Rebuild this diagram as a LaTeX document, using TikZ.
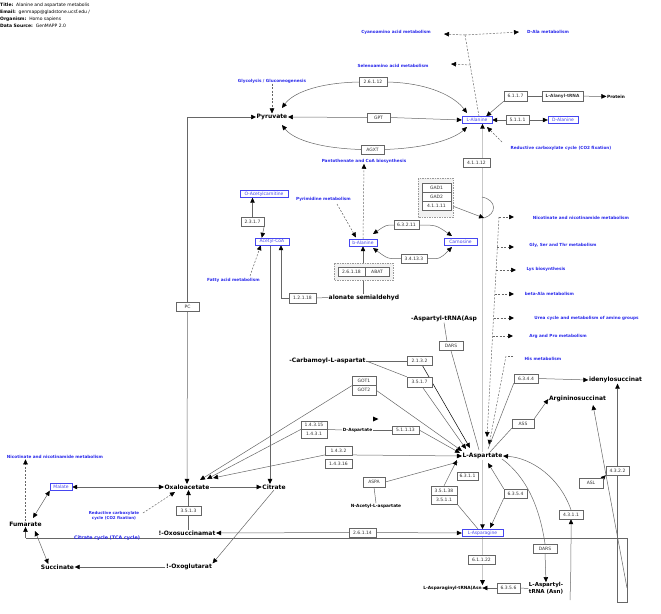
\documentclass[tikz,border=0pt]{standalone}
\usepackage{fontspec}
\setmainfont{DejaVu Sans}
\usetikzlibrary{arrows.meta}
\newcommand\fsz[1]{\fontsize{#1}{#1}\selectfont}
\definecolor{pblue}{RGB}{40,40,235}
\definecolor{mblue}{RGB}{70,70,240}
\pgfdeclarelayer{bg}
\pgfsetlayers{bg,main}
\tikzset{
 >={Triangle[length=5pt,width=4.5pt,color=black]},
 gene/.style={draw=black!60, fill=white, font=\fsz{4.5}, text=black!80, inner sep=0pt, minimum height=9pt},
 met/.style={font=\fsz{6}\bfseries, inner sep=0.5pt},
 smet/.style={font=\fsz{4.3}\bfseries, inner sep=0.5pt},
 bmet/.style={draw=mblue, fill=white, text=mblue, font=\fsz{4.5}, minimum height=7pt, inner sep=0pt},
 plab/.style={text=pblue, font=\fsz{4.2}\bfseries, inner sep=0.5pt},
 conn/.style={draw=black!60, line width=0.5pt},
 arr/.style={conn, ->},
 biarr/.style={conn, <->},
 dln/.style={conn, dash pattern=on 2pt off 1.5pt},
 darr/.style={dln, ->},
 gline/.style={draw=black!22, line width=1.4pt},
 garr/.style={gline, ->},
 grp/.style={draw=black!40, dash pattern=on 1.5pt off 1pt, fill=black!5},
}
\begin{document}
\begin{tikzpicture}[x=1pt,y=-1pt]
\useasboundingbox (0,0) rectangle (661,613);
% header
\node[anchor=west, font=\fsz{4.5}, inner sep=0] (h1) at (0,5) {\textbf{Title:}\ \ Alanine and aspartate metabolis};
\node[anchor=west, font=\fsz{4.5}, inner sep=0] (h2) at (0,12) {\textbf{Email:}\ \ genmapp@gladstone.ucsf.edu /};
\node[anchor=west, font=\fsz{4.5}, inner sep=0] (h3) at (0,19) {\textbf{Organism:}\ \ Homo sapiens};
\node[anchor=west, font=\fsz{4.5}, inner sep=0] (h4) at (0,25.5) {\textbf{Data Source:}\ \ GenMAPP 2.0};
% pathway labels
\node[plab] (cyano) at (396,32) {Cyanoamino acid metabolism};
\node[plab] (dala) at (548,32) {D-Ala metabolism};
\node[plab] (seleno) at (393,66) {Selenoamino acid metabolism};
\node[plab] (glyco) at (272,81) {Glycolysis / Gluconeogenesis};
\node[plab] (panto) at (364,161) {Pantothenate and CoA biosynthesis};
\node[plab] (pyrim) at (323.5,199) {Pyrimidine metabolism};
\node[plab] (fatty) at (233.5,280.5) {Fatty acid metabolism};
\node[plab] (redA) at (561,148.5) {Reductive carboxylate cycle (CO2 fixation)};
\node[plab] (nicR) at (581,218) {Nicotinate and nicotinamide metabolism};
\node[plab] (gly) at (563,245) {Gly, Ser and Thr metabolism};
\node[plab] (lys) at (546,269) {Lys biosynthesis};
\node[plab] (beta) at (549.5,294) {beta-Ala metabolism};
\node[plab] (urea) at (586.5,318) {Urea cycle and metabolism of amino groups};
\node[plab] (arg) at (558,336) {Arg and Pro metabolism};
\node[plab] (his) at (543,359) {His metabolism};
\node[plab] (nicL) at (55,457) {Nicotinate and nicotinamide metabolism};
\node[plab, align=center, font=\fontsize{4}{5}\selectfont\bfseries] (redB) at (114,515.5) {Reductive carboxylate\\cycle (CO2 fixation)};
\node[plab, font=\fsz{4.8}\bfseries] (tca) at (107,538) {Citrate cycle (TCA cycle)};
% groups
\draw[grp] (334,263) rectangle (393,280);
\draw[grp] (418,178) rectangle (453,217);
% top part
\node[met] (pyr) at (272,117) {Pyruvate};
\node[bmet, minimum width=30pt] (ala) at (477,120) {L-Alanine};
\node[gene, minimum width=23pt] (gpt) at (378.5,117.5) {GPT};
\node[gene, minimum width=28pt] (g2612) at (373,82) {2.6.1.12};
\node[gene, minimum width=23pt] (agxt) at (372.5,149.5) {AGXT};
\node[gene, minimum width=23pt] (pc) at (187.5,306.5) {PC};
\node[gene, minimum width=23pt, minimum height=10pt] (g6117) at (515.5,96) {6.1.1.7};
\node[gene, minimum width=41pt, minimum height=10pt, font=\fsz{4.3}\bfseries] (alatrna) at (562.5,96) {L-Alanyl-tRNA};
\node[smet] (protein) at (616,96.5) {Protein};
\node[gene, minimum width=23pt] (g5111) at (517.5,120) {5.1.1.1};
\node[bmet, minimum width=30pt] (dalanine) at (563,120) {D-Alanine};
\node[gene, minimum width=27pt] (g41112) at (476.5,162.5) {4.1.1.12};
% middle
\node[bmet, minimum width=48pt] (oac) at (264,194) {O-Acetylcarnitine};
\node[gene, minimum width=23pt] (g2317) at (252.5,221.5) {2.3.1.7};
\node[bmet, minimum width=34pt] (acoa) at (272,241.5) {Acetyl-CoA};
\node[gene, minimum width=27pt, minimum height=10pt] (g12118) at (302.5,298) {1.2.1.18};
\node[met, anchor=west] (msa) at (328,297.5) {alonate semialdehyd};
\node[bmet, minimum width=28pt] (bala) at (363,242.5) {b-Alanine};
\node[bmet, minimum width=33pt] (carn) at (460.5,241.5) {Carnosine};
\node[gene, minimum width=25pt] (g63211) at (406.5,225) {6.3.2.11};
\node[gene, minimum width=26pt] (g34133) at (414,258.5) {3.4.13.3};
\node[gene, minimum width=27pt] (g26118) at (351.5,271.5) {2.6.1.18};
\node[gene, minimum width=24pt] (abat) at (377,271.5) {ABAT};
\node[gene, minimum width=29pt] (gad1) at (436.5,187.5) {GAD1};
\node[gene, minimum width=29pt] (gad2) at (436.5,196.5) {GAD2};
\node[gene, minimum width=29pt] (g41111) at (436.5,205.5) {4.1.1.11};
% lower middle
\node[met] (asptrna) at (444,319) {-Aspartyl-tRNA(Asp};
\node[gene, minimum width=24pt] (dars1) at (451,346) {DARS};
\node[met] (carb) at (327.5,361) {-Carbamoyl-L-aspartat};
\node[gene, minimum width=25pt] (g2132) at (419.5,361) {2.1.3.2};
\node[gene, minimum width=25pt, minimum height=10pt] (g3517) at (419.5,382) {3.5.1.7};
\node[gene, minimum width=24pt, minimum height=9.5pt] (got1) at (364,380.75) {GOT1};
\node[gene, minimum width=24pt, minimum height=9.5pt] (got2) at (364,390.25) {GOT2};
\node[gene, minimum width=26pt, minimum height=8.5pt] (g14315) at (314,425) {1.4.3.15};
\node[gene, minimum width=26pt, minimum height=8.5pt] (g1431) at (314,433.5) {1.4.3.1};
\node[smet] (dasp) at (357.5,430) {D-Aspartate};
\node[gene, minimum width=27pt, minimum height=8.5pt] (g51113) at (405.5,430) {5.1.1.13};
\node[gene, minimum width=27pt, minimum height=8.5pt] (g1432) at (338.5,450.5) {1.4.3.2};
\node[gene, minimum width=27pt] (g14316) at (338.5,463.5) {1.4.3.16};
\node[met] (lasp) at (482.5,456) {L-Aspartate};
\node[gene, minimum width=22pt, minimum height=10pt] (aspa) at (374,482) {ASPA};
\node[smet] (naa) at (376,506) {N-Acetyl-L-aspartate};
\node[gene, minimum width=21pt, minimum height=8pt] (g6311) at (467.5,476) {6.3.1.1};
\node[gene, minimum width=26pt] (g35138) at (444,490.5) {3.5.1.38};
\node[gene, minimum width=26pt] (g3511) at (444,499.5) {3.5.1.1};
\node[gene, minimum width=23pt] (g6354) at (515.5,493.5) {6.3.5.4};
\node[bmet, minimum width=41pt] (lasn) at (482.5,533) {L-Asparagine};
\node[gene, minimum width=27pt] (g26114) at (362.5,532.5) {2.6.1.14};
\node[gene, minimum width=27pt] (g61122) at (481.5,559.5) {6.1.1.22};
\node[gene, minimum width=23pt, minimum height=10pt] (g6356) at (508.5,588) {6.3.5.6};
\node[smet] (asntrna) at (452.5,588) {L-Asparaginyl-tRNA(Asn};
\node[met, align=center, font=\fontsize{5.5}{6.5}\selectfont\bfseries] (asptrnaasn) at (546,588.5) {L-Aspartyl-\\tRNA (Asn)};
\node[gene, minimum width=24pt] (dars2) at (545,548.5) {DARS};
\node[gene, minimum width=24pt] (g4311) at (571,514.5) {4.3.1.1};
\node[gene, minimum width=24pt] (g6344) at (526,378.5) {6.3.4.4};
\node[met] (adsucc) at (615.5,380) {idenylosuccinat};
\node[gene, minimum width=22pt] (ass) at (523,423.5) {ASS};
\node[met] (argsucc) at (577.5,399) {Argininosuccinat};
\node[gene, minimum width=23pt] (g4322) at (617.5,470.5) {4.3.2.2};
\node[gene, minimum width=24pt, minimum height=10pt] (asl) at (591,483) {ASL};
% TCA part
\node[met] (oaa) at (187,487) {Oxaloacetate};
\node[bmet, minimum width=22pt] (malate) at (61,487) {Malate};
\node[met] (citrate) at (274,487) {Citrate};
\node[gene, minimum width=25pt] (g3513) at (188.5,510.5) {3.5.1.3};
\node[met] (oxosucc) at (187,533) {!-Oxosuccinamat};
\node[met] (fum) at (25.5,524) {Fumarate};
\node[met] (succ) at (57.5,567) {Succinate};
\node[met] (oxoglu) at (189,567) {!-Oxoglutarat};
% lone arrowhead
\fill[black] (373,416.5) -- (378.5,419) -- (373,421.5) -- cycle;
% coordinates
\coordinate (j1) at (465,35);
\coordinate (j2) at (470.5,65);
\coordinate (cyanoT) at (444,34);
\coordinate (dalaT) at (519,32);
\coordinate (selenoT) at (451,64);
\coordinate (pyrNE) at (282,108);
\coordinate (pyrSE) at (282,125);
\coordinate (alaNW) at (467,113);
\coordinate (alaSW) at (467,127);
\coordinate (pcTop) at (187.5,117);
\coordinate (redAs) at (502,142);
\coordinate (alaSE) at (487,127);
\coordinate (pyrimS) at (337,204);
\coordinate (balaNW) at (356,237.5);
\coordinate (fattyS) at (250,276);
\coordinate (k1) at (281,298);
\coordinate (balaNE) at (373,234);
\coordinate (carnNW) at (452,236);
\coordinate (balaSE) at (373,248);
\coordinate (carnSW) at (452,247);
\coordinate (gadA) at (482,197);
\coordinate (gadB) at (484,218);
\coordinate (b1) at (499,217);
\coordinate (b2) at (497.4,247);
\coordinate (b3) at (496.1,270);
\coordinate (b4) at (494.8,294);
\coordinate (b5) at (493.5,318);
\coordinate (b6) at (492.5,336);
\coordinate (dbot) at (487,437);
\coordinate (t1) at (514,217);
\coordinate (t2) at (514,247);
\coordinate (t3) at (516,270);
\coordinate (t4) at (514,294);
\coordinate (t5) at (514,318);
\coordinate (t6) at (513,336);
\coordinate (hisA) at (513,356);
\coordinate (hisB) at (506,356);
\coordinate (hisT) at (489,445);
\coordinate (laspT1) at (479,450);
\coordinate (laspA) at (470,448);
\coordinate (laspB) at (466,449);
\coordinate (laspC) at (462,451);
\coordinate (laspD) at (460,453);
\coordinate (laspF) at (458,462);
\coordinate (laspG) at (457,460);
\coordinate (laspH) at (488,463);
\coordinate (laspNE) at (490,452);
\coordinate (laspN2) at (488,449);
\coordinate (laspR1) at (502,459);
\coordinate (lasnN1) at (478,529);
\coordinate (lasnNE) at (490,528);
\coordinate (oaaT1) at (200,480);
\coordinate (oaaT2) at (207,479);
\coordinate (oaaT3) at (213,478);
\coordinate (oaaSW) at (175,492);
\coordinate (redBe) at (143,513);
\coordinate (fumNE) at (33,518);
\coordinate (fumSE) at (35,531);
\coordinate (tcaL) at (25.5,538);
\coordinate (tcaR) at (627,538);
\coordinate (rb1) at (627,602);
\coordinate (rb2) at (617.5,602);
\coordinate (diagB) at (627,588);
\coordinate (argT) at (593,405);
\coordinate (g4311b) at (570,600);
\begin{pgfonlayer}{bg}
% top dashed
\draw[dln] ([xshift=2pt]ala.north) -- (j1);
\draw[darr] (j1) -- (cyanoT);
\draw[darr] (j1) -- (dalaT);
\draw[darr] (j2) -- (selenoT);
\draw[darr] (glyco) -- (pyr);
% pyruvate - alanine
\draw[arr] (g2612.west) .. controls (315,83) and (292,94) .. (pyrNE);
\draw[arr] (g2612.east) .. controls (430,83) and (455,97) .. (alaNW);
\draw[arr] (agxt.west) .. controls (315,148) and (292,138) .. (pyrSE);
\draw[arr] (agxt.east) .. controls (430,148) and (455,138) .. (alaSW);
\draw[arr] (gpt.west) -- (pyr.east);
\draw[arr] (gpt.east) -- (ala.west);
\draw[conn] (pc.north) -- (pcTop);
\draw[arr] (pcTop) -- (pyr.west);
\draw[arr] (pc.south) -- (oaa.north);
\draw[arr] (g6117.south west) -- ([xshift=-6pt]ala.north east);
\draw[conn] (g6117) -- (alatrna);
\draw[arr] (alatrna) -- (protein);
\draw[arr] (g5111) -- (ala);
\draw[arr] (g5111) -- (dalanine);
\draw[darr] (redAs) -- (alaSE);
\draw[garr] (lasp.north) -- (lasp.north |- ala.south);
% middle
\draw[darr] (bala.north) -- (panto.south);
\draw[darr] (pyrimS) -- (balaNW);
\draw[arr] (g2317.north) -- (g2317.north |- oac.south);
\draw[arr] (g2317.south east) -- ([xshift=7pt]acoa.north west);
\draw[darr] (fattyS) -- ([xshift=6pt]acoa.south west);
\draw[arr] ([xshift=-2pt]acoa.south) -- ([xshift=-2pt]acoa.south |- citrate.north);
\draw[conn] (g12118.west) -- (k1);
\draw[arr] (k1) -- (k1 |- acoa.south);
\draw[conn] (g12118.east) -- (msa.west);
\draw[arr] (msa.north -| bala.south) -- (bala.south);
\draw[arr] (g63211.west) .. controls (386,225) .. (balaNE);
\draw[arr] (g63211.east) .. controls (436,225) .. (carnNW);
\draw[arr] (g34133.west) .. controls (388,259) .. (balaSE);
\draw[arr] (g34133.east) .. controls (440,259) .. (carnSW);
\draw[conn] (gadA) .. controls (497,200) and (497,214) .. (gadB);
\draw[arr] (g41111.east) -- (gadB);
% right dashed list
\draw[darr] (b1) -- (dbot);
\draw[darr] (b1) -- (t1);
\draw[darr] (b2) -- (t2);
\draw[darr] (b3) -- (t3);
\draw[darr] (b4) -- (t4);
\draw[darr] (b5) -- (t5);
\draw[darr] (b6) -- (t6);
\draw[dln] (hisA) -- (hisB);
\draw[darr] (hisB) -- (hisT);
% aspartate reactions
\draw[conn] (asptrna.south) -- ([xshift=-4pt]dars1.north);
\draw[conn] (dars1.south) -- (laspT1);
\draw[conn] (carb.east) -- (g2132.west);
\draw[conn] (carb.east) -- (g3517.north west);
\draw[arr, draw=black] ([xshift=3pt]g2132.south) -- (laspA);
\draw[arr] ([xshift=3pt]g3517.south) -- (laspB);
\draw[arr] (got1.south west) -- (oaaT1);
\draw[arr] (got2.east) -- (laspC);
\draw[arr] (g14315.south west) -- (oaaT2);
\draw[conn] (g14315.south east) -- (dasp.west);
\draw[conn] (dasp.east) -- (g51113.west);
\draw[arr] (g51113.east) -- (laspD);
\draw[arr] (g1432.south west) -- (oaaT3);
\draw[arr] (g1432.south east) -- (lasp.west);
\draw[conn] (aspa.south) -- (naa.north);
\draw[conn] (aspa.east) -- (laspF);
\draw[arr] (g35138.north) -- (laspG);
\draw[conn] (g3511.south east) -- (lasnN1);
\draw[arr] (g6354.north west) -- (laspH);
\draw[arr] (g6354.south west) -- (lasnNE);
\draw[garr] (lasp.south) -- (lasn.north);
\draw[garr] (lasn.south) -- (lasn.south |- asntrna.north);
\draw[conn] (asptrnaasn.west) -- (g6356.east);
\draw[arr] (g6356.west) -- (asntrna.east);
\draw[conn] (laspR1) .. controls (528,478) and (540,510) .. (dars2.north);
\draw[arr] (dars2.south) -- (asptrnaasn.north);
\draw[arr] (g4311.north) .. controls (560,478) and (532,458) .. (lasp.east);
\draw[arr] (g4311b) .. controls (571,565) .. (g4311.south);
\draw[arr] (g26114.west) -- (oxosucc.east);
\draw[arr] (g26114.east) -- (lasn.west);
\draw[conn] (laspNE) -- (ass.south west);
\draw[arr] (ass.north east) -- (argsucc.west);
\draw[conn] (laspN2) -- (g6344.south west);
\draw[arr] (g6344.east) -- (adsucc.west);
\draw[arr] (g4322.north) -- (g4322.north |- adsucc.south);
\draw[arr] (asl.north east) -- (g4322.south west);
\draw[conn] (g4322.south) -- (rb2) -- (rb1) -- (tcaR) -- (tcaL);
\draw[arr] (tcaL) -- (fum.south);
\draw[arr] (diagB) -- (argT);
% TCA
\draw[biarr] (malate.east) -- (oaa.west);
\draw[arr] (oaa.east) -- (citrate.west);
\draw[conn] (g3513.south |- oxosucc.north) -- (g3513.south);
\draw[arr] (g3513.north) -- (g3513.north |- oaa.south);
\draw[darr] (redBe) -- (oaaSW);
\draw[darr] (fum.north) -- (fum.north |- nicL.south);
\draw[biarr] (malate.south west) -- (fumNE);
\draw[biarr] (fumSE) -- ([xshift=8pt]succ.north west);
\draw[arr] (oxoglu.west) -- (succ.east);
\draw[arr] (citrate.south) -- (oxoglu.north east);
\end{pgfonlayer}
\end{tikzpicture}
\end{document}
